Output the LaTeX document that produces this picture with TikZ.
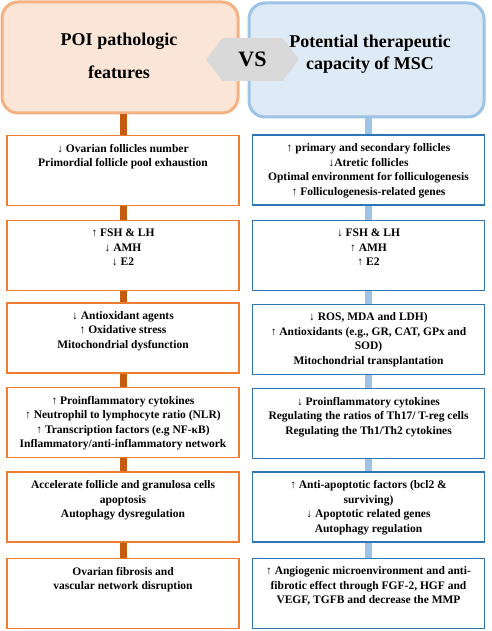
\documentclass[tikz,border=0pt]{standalone}
\usepackage{fontspec}
\setmainfont{Liberation Serif}
\usepackage{tikz}
\usetikzlibrary{positioning, shapes.symbols}
\definecolor{POIFILL}{HTML}{FBE5D6}
\definecolor{POIBORDER}{HTML}{F4B183}
\definecolor{MSCFILL}{HTML}{DEEBF7}
\definecolor{MSCBORDER}{HTML}{9DC3E6}
\definecolor{LBAR}{HTML}{C55A11}
\definecolor{RBAR}{HTML}{9DC3E6}
\definecolor{LLINE}{HTML}{ED7D31}
\definecolor{RLINE}{HTML}{2E75B6}
\definecolor{VSGREY}{HTML}{D9D9D9}

\begin{document}
\begin{tikzpicture}[x=1pt, y=-1pt,
    topbox/.style={rounded corners=16pt, line width=3pt, inner sep=0pt},
    title/.style={align=center, inner sep=0pt},
    lbox/.style={draw=LLINE, line width=1.4pt, fill=white, minimum width=232pt, minimum height=70pt, inner sep=0pt},
    rbox/.style={draw=RLINE, line width=1.4pt, fill=white, minimum width=232pt, minimum height=70pt, inner sep=0pt},
    boxtext/.style={font=\fontsize{11.5}{14.5}\selectfont\bfseries, align=center, inner sep=0pt},
    lbar/.style={LBAR, line width=7pt},
    rbar/.style={RBAR, line width=7pt}]
    \useasboundingbox (0,0) rectangle (491,631);
    \node[topbox, draw=POIBORDER, fill=POIFILL, minimum width=236pt, minimum height=111pt] (poi) at (120,57.5) {};
    \node[topbox, draw=MSCBORDER, fill=MSCFILL, minimum width=235pt, minimum height=114pt] (msc) at (366.5,60) {};
    \node[signal, signal to=west and east, signal pointer angle=105, fill=VSGREY, minimum width=93pt, minimum height=43pt, inner sep=0pt, font=\fontsize{22}{26}\selectfont\bfseries] (vs) at (252.5,59.5) {VS};
    \node[title, font=\fontsize{18}{33}\selectfont\bfseries] (poititle) at (119,55.5) {POI pathologic\\features};
    \node[title, font=\fontsize{18}{22}\selectfont\bfseries] (msctitle) at (370,54) {Potential therapeutic\\capacity of MSC};

    \node[lbox] (l1) at (123,170.5) {};
    \node[lbox] (l2) at (123,255.5) {};
    \node[lbox] (l3) at (123,338) {};
    \node[lbox] (l4) at (123,422.5) {};
    \node[lbox] (l5) at (123,507) {};
    \node[lbox] (l6) at (123,593.5) {};
    \node[rbox] (r1) at (368.5,170) {};
    \node[rbox] (r2) at (368.5,255.5) {};
    \node[rbox] (r3) at (368.5,339.5) {};
    \node[rbox] (r4) at (368.5,423.5) {};
    \node[rbox] (r5) at (368.5,507) {};
    \node[rbox] (r6) at (368.5,593.5) {};

    \draw[lbar] (l1.north |- poi.south) -- (l1.north);
    \draw[lbar] (l1.south) -- (l2.north);
    \draw[lbar] (l2.south) -- (l3.north);
    \draw[lbar] (l3.south) -- (l4.north);
    \draw[lbar] (l4.south) -- (l5.north);
    \draw[lbar] (l5.south) -- (l6.north);
    \draw[rbar] (r1.north |- msc.south) -- (r1.north);
    \draw[rbar] (r1.south) -- (r2.north);
    \draw[rbar] (r2.south) -- (r3.north);
    \draw[rbar] (r3.south) -- (r4.north);
    \draw[rbar] (r4.south) -- (r5.north);
    \draw[rbar] (r5.south) -- (r6.north);

    \node[boxtext, below=9pt of l1.north] (l1text) {↓ Ovarian follicles number\\Primordial follicle pool exhaustion};
    \node[boxtext, below=9pt of l2.north] (l2text) {↑ FSH \& LH\\↓ AMH\\↓ E2};
    \node[boxtext, below=9pt of l3.north] (l3text) {↓ Antioxidant agents\\↑ Oxidative stress\\Mitochondrial dysfunction};
    \node[boxtext, below=9pt of l4.north] (l4text) {↑ Proinflammatory cytokines\\↑ Neutrophil to lymphocyte ratio (NLR)\\↑ Transcription factors (e.g NF-κB)\\Inflammatory/anti-inflammatory network};
    \node[boxtext, below=9pt of l5.north] (l5text) {Accelerate follicle and granulosa cells\\apoptosis\\Autophagy dysregulation};
    \node[boxtext, below=9pt of l6.north] (l6text) {Ovarian fibrosis and\\vascular network disruption};
    \node[boxtext, below=9pt of r1.north] (r1text) {↑ primary and secondary follicles\\↓Atretic follicles\\Optimal environment for folliculogenesis\\↑ Folliculogenesis-related genes};
    \node[boxtext, below=9pt of r2.north] (r2text) {↓ FSH \& LH\\↑ AMH\\↑ E2};
    \node[boxtext, below=9pt of r3.north] (r3text) {↓ ROS, MDA and LDH)\\↑ Antioxidants (e.g., GR, CAT, GPx and\\SOD)\\Mitochondrial transplantation};
    \node[boxtext, below=9pt of r4.north] (r4text) {↓ Proinflammatory cytokines\\Regulating the ratios of Th17/ T-reg cells\\Regulating the Th1/Th2 cytokines};
    \node[boxtext, below=9pt of r5.north] (r5text) {↑ Anti-apoptotic factors (bcl2 \&\\surviving)\\↓ Apoptotic related genes\\Autophagy regulation};
    \node[boxtext, below=9pt of r6.north] (r6text) {↑ Angiogenic microenvironment and anti-\\fibrotic effect through FGF-2, HGF and\\VEGF, TGFB and decrease the MMP};
\end{tikzpicture}
\end{document}
